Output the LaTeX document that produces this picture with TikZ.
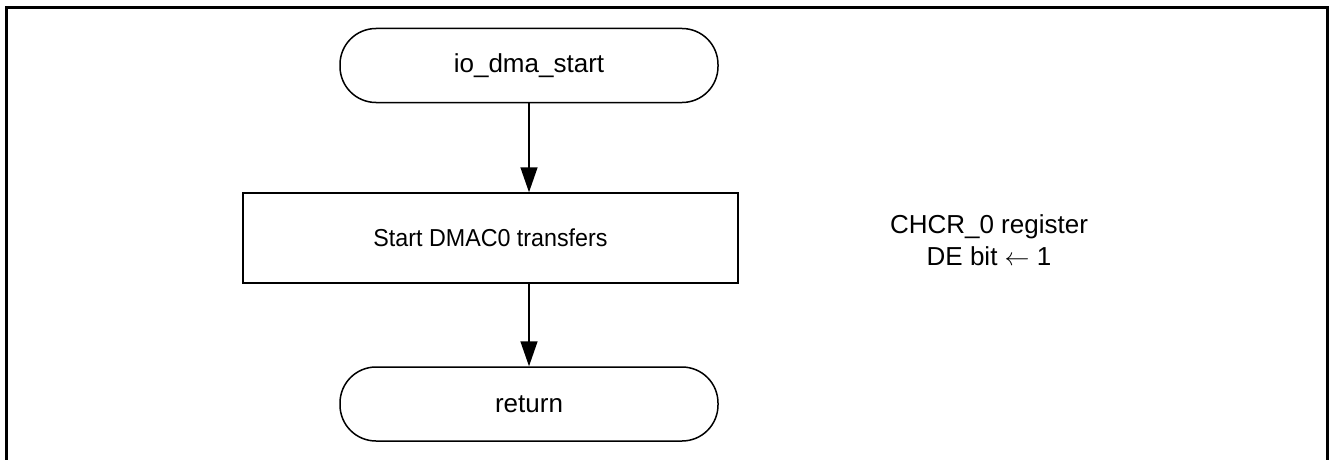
\documentclass[tikz,border=0pt]{standalone}
\usepackage{fontspec}
\usepackage{graphicx}
\setmainfont{Liberation Sans}
\usetikzlibrary{arrows.meta}
\begin{document}
\begin{tikzpicture}[x=1pt,y=-1pt,
  term/.style={draw,line width=1.5pt,rounded corners=36pt,minimum width=378pt,minimum height=74pt,inner sep=0pt,font=\fontsize{26}{31}\selectfont},
  proc/.style={draw,line width=1.5pt,minimum width=495pt,minimum height=90pt,inner sep=0pt,font=\fontsize{24.5}{29}\selectfont},
  note/.style={align=center,inner sep=0pt,font=\fontsize{26}{32}\selectfont},
  conn/.style={line width=1.5pt,-{Triangle[width=17pt,length=25pt]}}]
\useasboundingbox (0,0) rectangle (1332,460);
\draw[line width=3pt] (6.5,470) -- (6.5,7.5) -- (1327,7.5) -- (1327,470);
\node[term] (start) at (529,65.5) {io\_dma\_start};
\node[proc] (dma) at (490.5,238) {\scalebox{0.95}[1]{Start DMAC0 transfers}};
\node[term] (ret) at (529,404) {return};
\node[note] (reg) at (989,240) {CHCR\_0 register\\DE bit $\leftarrow$ 1};
\draw[conn] (start.south) -- (start.south |- dma.north);
\draw[conn] (start.south |- dma.south) -- (ret.north);
\end{tikzpicture}
\end{document}
